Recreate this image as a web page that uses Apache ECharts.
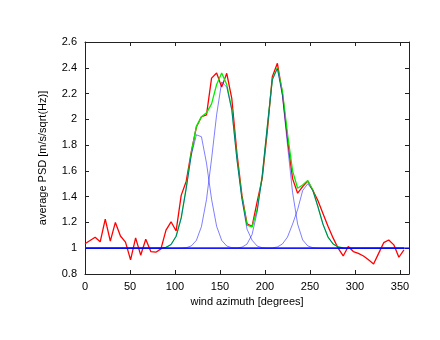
<!DOCTYPE html>
<html>
<head>
<meta charset="utf-8">
<script src="https://cdn.jsdelivr.net/npm/echarts@6/dist/echarts.min.js"></script>
<style>
	html, body { margin: 0; padding: 0; background: #fff; }
	#chart { width: 440px; height: 340px; }
</style>
</head>
<body>
<div id="chart"></div>
<script>
// wind azimuth of each sample [degrees]
var azimuth = [0, 5.625, 11.25, 16.875, 22.5, 28.125, 33.75, 39.375, 45, 50.625, 56.25, 61.875,
	67.5, 73.125, 78.75, 84.375, 90, 95.625, 101.25, 106.875, 112.5, 118.125, 123.75, 129.375,
	135, 140.625, 146.25, 151.875, 157.5, 163.125, 168.75, 174.375, 180, 185.625, 191.25, 196.875,
	202.5, 208.125, 213.75, 219.375, 225, 230.625, 236.25, 241.875, 247.5, 253.125, 258.75, 264.375,
	270, 275.625, 281.25, 286.875, 292.5, 298.125, 303.75, 309.375, 315, 320.625, 326.25, 331.875,
	337.5, 343.125, 348.75, 354.375];

// measured average PSD (red)
var measured = [1.035, 1.06, 1.085, 1.05, 1.225, 1.055, 1.2, 1.095, 1.047, 0.91, 1.08, 0.946,
	1.07, 0.974, 0.969, 0.995, 1.14, 1.205, 1.134, 1.41, 1.52, 1.75, 1.94, 2.02,
	2.035, 2.32, 2.36, 2.25, 2.357, 2.16, 1.74, 1.41, 1.19, 1.17, 1.36, 1.54,
	1.905, 2.33, 2.435, 2.2, 1.85, 1.54, 1.427, 1.478, 1.522, 1.45, 1.37, 1.27,
	1.17, 1.08, 1.0, 0.94, 1.013, 0.974, 0.96, 0.94, 0.91, 0.878, 0.96, 1.043,
	1.064, 1.026, 0.93, 0.987];

// fitted sum (green)
var fit = [1, 1, 1, 1, 1, 1, 1, 1, 1, 1, 1, 1,
	1, 1, 1, 1.001, 1.007, 1.029, 1.093, 1.235, 1.47, 1.74, 1.945, 2.02,
	2.05, 2.12, 2.27, 2.36, 2.27, 2.08, 1.70, 1.39, 1.18, 1.165, 1.30, 1.56,
	1.94, 2.309, 2.402, 2.216, 1.888, 1.6, 1.465, 1.49, 1.525, 1.452, 1.324, 1.187,
	1.087, 1.033, 1.01, 1.002, 1, 1, 1, 1, 1, 1, 1, 1,
	1, 1, 1, 1];

// single peaks of the fit (blue)
var peak1 = [1, 1, 1, 1, 1, 1, 1, 1, 1, 1, 1, 1,
	1, 1, 1, 1.001, 1.007, 1.029, 1.093, 1.234, 1.465, 1.722, 1.88, 1.865,
	1.66, 1.38, 1.17, 1.061, 1.017, 1.004, 1.001, 1, 1, 1, 1, 1,
	1, 1, 1, 1, 1, 1, 1, 1, 1, 1, 1, 1,
	1, 1, 1, 1, 1, 1, 1, 1, 1, 1, 1, 1,
	1, 1, 1, 1];
var peak2 = [1, 1, 1, 1, 1, 1, 1, 1, 1, 1, 1, 1,
	1, 1, 1, 1, 1, 1, 1, 1.001, 1.004, 1.018, 1.061, 1.168,
	1.378, 1.693, 2.036, 2.29, 2.25, 2.07, 1.69, 1.38, 1.148, 1.062, 1.017, 1.004,
	1.001, 1, 1, 1, 1, 1, 1, 1, 1, 1, 1, 1,
	1, 1, 1, 1, 1, 1, 1, 1, 1, 1, 1, 1,
	1, 1, 1, 1];
var peak3 = [1, 1, 1, 1, 1, 1, 1, 1, 1, 1, 1, 1,
	1, 1, 1, 1, 1, 1, 1, 1, 1, 1, 1, 1,
	1, 1, 1, 1, 1, 1, 1.002, 1.008, 1.032, 1.106, 1.279, 1.56,
	1.94, 2.307, 2.392, 2.183, 1.801, 1.433, 1.187, 1.064, 1.018, 1.004, 1.001, 1,
	1, 1, 1, 1, 1, 1, 1, 1, 1, 1, 1, 1,
	1, 1, 1, 1];
var peak4 = [1, 1, 1, 1, 1, 1, 1, 1, 1, 1, 1, 1,
	1, 1, 1, 1, 1, 1, 1, 1, 1, 1, 1, 1,
	1, 1, 1, 1, 1, 1, 1, 1, 1, 1, 1, 1,
	1, 1.002, 1.01, 1.033, 1.087, 1.187, 1.3, 1.448, 1.5, 1.448, 1.323, 1.187,
	1.087, 1.033, 1.01, 1.002, 1, 1, 1, 1, 1, 1, 1, 1,
	1, 1, 1, 1];

// background level
var baseX = [0, 360];
var baseY = [1, 1];

function pairs(xs, ys) {
	return xs.map(function(x, i) { return [x, ys[i]]; });
}

var font = 'Liberation Sans, Arial, sans-serif';
var frame = { show: true, onZero: false, lineStyle: { color: '#222', width: 1 } };
var ticks = { show: true, inside: true, length: 4, lineStyle: { color: '#222' } };

function peakSeries(values) {
	return {
		type: 'line',
		data: pairs(azimuth, values),
		symbol: 'none',
		z: 4,
		lineStyle: { color: '#0000ff', width: 1, opacity: 0.5 }
	};
}

var option = {
	animation: false,
	backgroundColor: '#fff',
	grid: { left: 85, right: 31, top: 42, bottom: 66 },
	xAxis: [
		{
			type: 'value', min: 0, max: 360, interval: 50, position: 'bottom',
			name: 'wind azimuth [degrees]', nameLocation: 'middle', nameGap: 22,
			nameTextStyle: { color: '#000', fontSize: 11, fontFamily: font },
			axisLine: frame, axisTick: ticks, splitLine: { show: false },
			axisLabel: { color: '#000', fontSize: 11, fontFamily: font, margin: 7, showMaxLabel: false }
		},
		{
			type: 'value', min: 0, max: 360, interval: 50, position: 'top',
			axisLine: frame, axisTick: ticks, splitLine: { show: false },
			axisLabel: { show: false }
		}
	],
	yAxis: [
		{
			type: 'value', min: 0.8, max: 2.6, interval: 0.2, position: 'left',
			name: 'average PSD [m/s/sqrt(Hz)]', nameLocation: 'middle', nameGap: 37,
			nameTextStyle: { color: '#000', fontSize: 11, fontFamily: font },
			axisLine: frame, axisTick: ticks, splitLine: { show: false },
			axisLabel: { color: '#000', fontSize: 11, fontFamily: font, margin: 8 }
		},
		{
			type: 'value', min: 0.8, max: 2.6, interval: 0.2, position: 'right',
			axisLine: frame, axisTick: ticks, splitLine: { show: false },
			axisLabel: { show: false }
		}
	],
	series: [
		{
			type: 'line', data: pairs(azimuth, measured), symbol: 'none', z: 2,
			lineStyle: { color: '#ff0000', width: 1.3 }
		},
		{
			type: 'line', data: pairs(azimuth, fit), symbol: 'none', z: 3,
			lineStyle: { color: '#00ee00', width: 1.3 }
		},
		peakSeries(peak1),
		peakSeries(peak2),
		peakSeries(peak3),
		peakSeries(peak4),
		{
			type: 'line', data: pairs(baseX, baseY), symbol: 'none', z: 5,
			lineStyle: { color: '#0000ff', width: 1.3 }
		}
	]
};

var chart = echarts.init(document.getElementById('chart'));
chart.setOption(option);
</script>
</body>
</html>
